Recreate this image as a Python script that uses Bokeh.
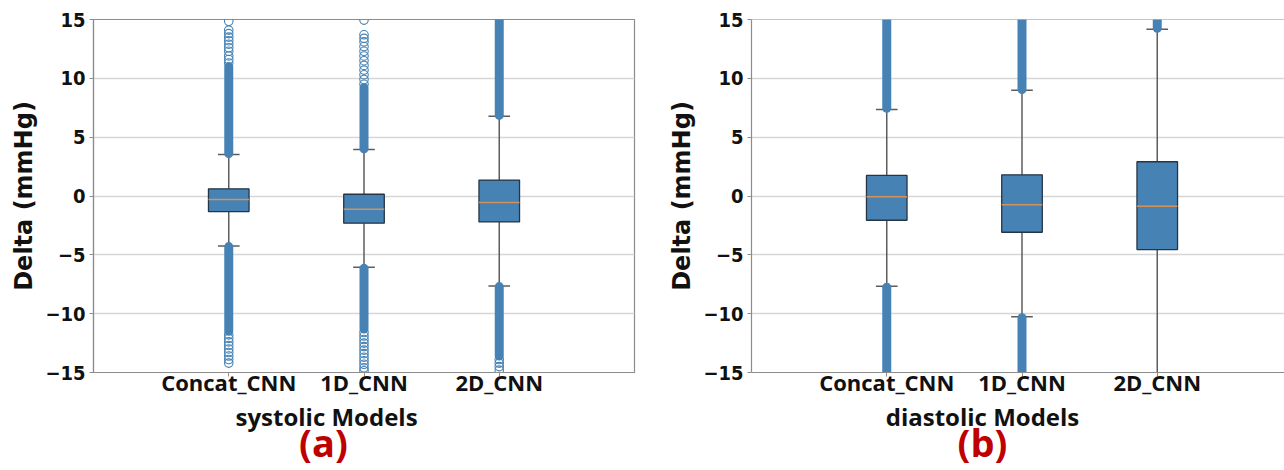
from bokeh.plotting import figure
from bokeh.layouts import row, column
from bokeh.models import FixedTicker, Label, Span, Range1d
from bokeh.embed import file_html
from bokeh.resources import INLINE

# ---------------- data ----------------
models = ["Concat_CNN", "1D_CNN", "2D_CNN"]
positions = [1, 2, 3]
y_ticks = [-15, -10, -5, 0, 5, 10, 15]

# systolic
sys_q1 = [-1.32, -2.31, -2.20]
sys_med = [-0.30, -1.12, -0.55]
sys_q3 = [0.61, 0.15, 1.35]
sys_lo = [-4.24, -6.06, -7.64]
sys_hi = [3.53, 3.96, 6.77]
# dense runs of outliers (model index, from, to)
sys_dense_idx = [0, 0, 1, 1, 2, 2]
sys_dense_from = [3.60, -4.30, 4.02, -6.15, 6.85, -7.70]
sys_dense_to = [11.0, -11.5, 9.2, -11.3, 16.0, -13.6]
# sparse individual outliers
sys_pts_idx = ([0] * 11 + [0] * 9 + [1] * 13 + [1] * 12 + [2] * 4)
sys_pts_val = [11.3, 11.6, 11.9, 12.3, 12.6, 12.9, 13.2, 13.5, 13.8, 14.1, 14.85,
               -11.8, -12.1, -12.4, -12.7, -13.0, -13.3, -13.6, -13.9, -14.2,
               9.5, 9.9, 10.3, 10.7, 11.1, 11.5, 11.9, 12.3, 12.7, 13.1, 13.4, 13.7, 14.95,
               -11.6, -11.9, -12.2, -12.5, -12.8, -13.1, -13.4, -13.7, -14.0, -14.3, -14.6, -14.85,
               -13.9, -14.2, -14.5, -14.8]

# diastolic
dia_q1 = [-2.06, -3.08, -4.55]
dia_med = [-0.07, -0.75, -0.87]
dia_q3 = [1.75, 1.80, 2.91]
dia_lo = [-7.68, -10.26, -17.0]
dia_hi = [7.36, 8.98, 14.17]
dia_dense_idx = [0, 0, 1, 1, 2]
dia_dense_from = [7.45, -7.75, 9.05, -10.35, 14.25]
dia_dense_to = [16.0, -16.0, 16.0, -16.0, 16.0]
dia_pts_idx = []
dia_pts_val = []

BLUE = "#4682B4"
GRID = "#d6d6d6"
SPINE = "#8c8c8c"
WHISK = "#5c5c5c"
EDGE = "#263545"
MED = "#d4915a"
RED = "#be0000"
INK = "#111111"

BOX_W = 0.30
CAP_W = 0.16

minus_labels = {t: (str(t) if t >= 0 else "\u2212" + str(-t)) for t in y_ticks}


def panel(width, border_left, border_right, x_range, q1, med, q3, lo, hi,
          d_idx, d_from, d_to, p_idx, p_val, outline):
    p = figure(width=width, height=399, x_range=x_range,
               y_range=Range1d(-15, 15), output_backend="svg",
               toolbar_location=None, min_border_left=border_left,
               min_border_right=border_right, min_border_top=19,
               min_border_bottom=27, background_fill_color="white",
               border_fill_color="white")
    p.outline_line_color = SPINE if outline else None
    p.outline_line_width = 1.2
    if not outline:
        p.add_layout(Span(location=15, dimension="width", line_color=SPINE,
                          line_width=1.2))

    # axes
    p.xaxis.ticker = FixedTicker(ticks=positions)
    p.xaxis.major_label_overrides = {pos: m for pos, m in zip(positions, models)}
    p.xaxis.major_label_text_font = "Open Sans"
    p.xaxis.major_label_text_font_style = "bold"
    p.xaxis.major_label_text_font_size = "22px"
    p.xaxis.major_label_text_color = INK
    p.xaxis.major_label_standoff = -10
    p.yaxis.ticker = FixedTicker(ticks=y_ticks)
    p.yaxis.major_label_overrides = minus_labels
    p.yaxis.major_label_text_font = "DejaVu Sans Condensed"
    p.yaxis.major_label_text_font_style = "bold"
    p.yaxis.major_label_text_font_size = "20px"
    p.yaxis.major_label_text_color = INK
    p.yaxis.major_label_standoff = 4
    p.yaxis.axis_label = "Delta (mmHg)"
    p.yaxis.axis_label_text_font = "DejaVu Sans"
    p.yaxis.axis_label_text_font_style = "bold"
    p.yaxis.axis_label_text_font_size = "24px"
    p.yaxis.axis_label_text_color = INK
    p.yaxis.axis_label_standoff = 4
    for ax in (p.xaxis, p.yaxis):
        ax.axis_line_color = SPINE
        ax.axis_line_width = 1.2
        ax.major_tick_line_color = SPINE
        ax.major_tick_out = 4
        ax.major_tick_in = 0
        ax.minor_tick_line_color = None
    p.xgrid.grid_line_color = None
    p.ygrid.grid_line_color = GRID
    p.ygrid.grid_line_width = 1.3

    # whiskers
    p.segment(x0=positions, y0=q3, x1=positions, y1=hi, line_color=WHISK, line_width=1.5)
    p.segment(x0=positions, y0=q1, x1=positions, y1=lo, line_color=WHISK, line_width=1.5)
    # caps
    p.segment(x0=[x - CAP_W / 2 for x in positions], y0=hi,
              x1=[x + CAP_W / 2 for x in positions], y1=hi, line_color=WHISK, line_width=1.5)
    p.segment(x0=[x - CAP_W / 2 for x in positions], y0=lo,
              x1=[x + CAP_W / 2 for x in positions], y1=lo, line_color=WHISK, line_width=1.5)
    # boxes
    p.vbar(x=positions, bottom=q1, top=q3, width=BOX_W, fill_color=BLUE,
           line_color=EDGE, line_width=1.3)
    # medians
    p.segment(x0=[x - BOX_W / 2 for x in positions], y0=med,
              x1=[x + BOX_W / 2 for x in positions], y1=med, line_color=MED, line_width=1.5)
    # outliers: dense runs and single points
    dx = [positions[i] for i in d_idx]
    p.segment(x0=dx, y0=d_from, x1=dx, y1=d_to, line_color=BLUE, line_width=9,
              line_cap="round")
    if p_val:
        px = [positions[i] for i in p_idx]
        p.scatter(x=px, y=p_val, marker="circle", size=8.5, fill_color=None,
                  line_color=BLUE, line_width=1.1)
    return p


def caption_strip(width, x_range, xlabel, xlabel_x, tag, tag_x):
    # strip under a panel holding the x-axis title and the panel letter
    s = figure(width=width, height=71, x_range=x_range,
               y_range=Range1d(71, 0), output_backend="svg",
               toolbar_location=None, min_border=0,
               x_axis_type=None, y_axis_type=None,
               background_fill_color="white", border_fill_color="white")
    s.outline_line_color = None
    s.grid.grid_line_color = None
    s.add_layout(Label(x=xlabel_x, y=16.5, text=xlabel, text_align="center",
                       text_baseline="alphabetic", text_font="Open Sans",
                       text_font_style="bold", text_font_size="24px",
                       text_color=INK))
    s.add_layout(Label(x=tag_x, y=42, text=tag, text_align="center",
                       text_baseline="alphabetic", text_font="Open Sans",
                       text_font_style="bold", text_font_size="38px",
                       text_color=RED))
    return s


xr1 = Range1d(0, 4.0)
xr2 = Range1d(0, 533 / 135.25)
p1 = panel(640, 93, 6, xr1, sys_q1, sys_med, sys_q3, sys_lo, sys_hi,
           sys_dense_idx, sys_dense_from, sys_dense_to, sys_pts_idx, sys_pts_val, True)
p2 = panel(644, 111, 0, xr2, dia_q1, dia_med, dia_q3, dia_lo, dia_hi,
           dia_dense_idx, dia_dense_from, dia_dense_to, dia_pts_idx, dia_pts_val, False)
s1 = caption_strip(640, xr1, "systolic Models", 1.723, "(a)", 1.70)
s2 = caption_strip(644, xr2, "diastolic Models", 1.708, "(b)", 1.708)

layout = row(column(p1, s1), column(p2, s2))
open("out.html", "w").write(file_html(layout, INLINE))
